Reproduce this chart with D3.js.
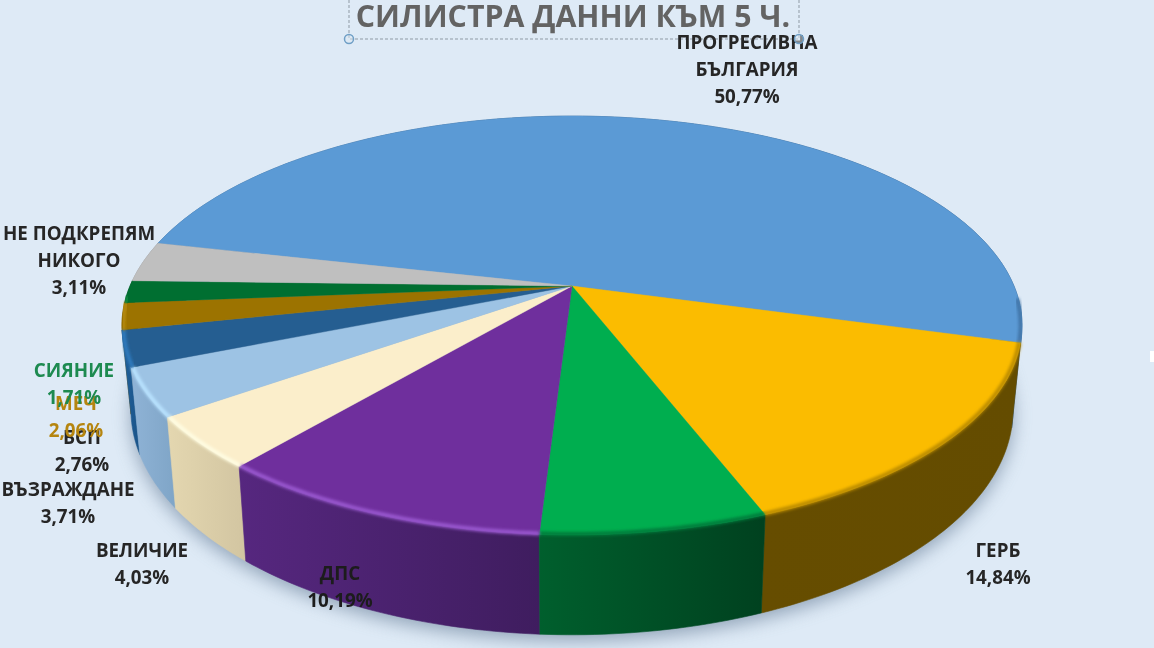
<!DOCTYPE html>
<html><head><meta charset="utf-8">
<script src="https://cdn.jsdelivr.net/npm/d3@7"></script>
<style>
html,body{margin:0;padding:0;background:#deeaf6;overflow:hidden}
svg{display:block;filter:blur(0.5px)}
text{font-family:"Open Sans","Noto Sans",sans-serif;font-weight:700;text-anchor:middle;dominant-baseline:central}
</style></head><body>
<svg id="c" width="1154" height="648"></svg>
<script>
const titleText = "СИЛИСТРА ДАННИ КЪМ 5 Ч.";
const parties = ["ПРОГРЕСИВНА БЪЛГАРИЯ","ГЕРБ","(без етикет)","ДПС","ВЕЛИЧИЕ","ВЪЗРАЖДАНЕ","БСП","МЕЧ","СИЯНИЕ","НЕ ПОДКРЕПЯМ НИКОГО"];
const shares = [50.77,14.84,6.82,10.19,4.03,3.71,2.76,2.06,1.71,3.11];

const topColors  = ["#5b9ad5","#fbbc00","#00ae4f","#6f2f9d","#fbeecb","#9dc3e4","#255e91","#9c7300","#006f31","#bfbfbf"];
const sideLeft   = ["#3a6c9c","#664d00","#005f2d","#56277f","#e4d7b0","#8fb3d6","#1f5f9a","#7a5a00","#005525","#9a9a9a"];
const sideRight  = ["#2d5a88","#644c00","#00411f","#3f1d5f","#d2c5a1","#7fa5c7","#1b5488","#6a4f00","#004a20","#8a8a8a"];
const rimColors  = ["#3f73a6","#b98a00","#007a3a","#9a58d0","#fffde2","#b9e3ff","#2f7cc0","#b58a10","#0a8a40","#d0d0d0"];

// label placement: [centre x, first line y], same order as the parties that carry a label
const labelLines = [
  {p:0,c:"#262626",x:747,y:42,lines:["ПРОГРЕСИВНА","БЪЛГАРИЯ","50,77%"]},
  {p:1,c:"#262626",x:998,y:550,lines:["ГЕРБ","14,84%"]},
  {p:3,c:"#1c1c1c",x:340,y:573,lines:["ДПС","10,19%"]},
  {p:4,c:"#262626",x:142,y:550,lines:["ВЕЛИЧИЕ","4,03%"]},
  {p:5,c:"#262626",x:68,y:489,lines:["ВЪЗРАЖДАНЕ","3,71%"]},
  {p:6,c:"#262626",x:82,y:437,lines:["БСП","2,76%"]},
  {p:7,c:"#b5850f",x:76,y:403,lines:["МЕЧ","2,06%"]},
  {p:8,c:"#1d8a50",x:74,y:370,lines:["СИЯНИЕ","1,71%"]},
  {p:9,c:"#262626",x:79,y:233,lines:["НЕ ПОДКРЕПЯМ","НИКОГО","3,11%"]}
];

const svg = d3.select("#c");
const defs = svg.append("defs");
svg.append("rect").attr("width",1154).attr("height",648).attr("fill","#deeaf6");

// perspective projection of the pie disc; the lower disc sits farther from the viewer
const cx=572, cy=286, A=442, B=202, P=0.1886, D=81, SHRINK=0.02;
const proj=(a,r=1,drop=0)=>{
  const u=r*Math.sin(a), v=-r*Math.cos(a), w=1-P*v;
  return [cx+(1-SHRINK*drop)*A*u/w, cy+(B*v+drop*D)/w];
};
const rad=d3.scaleLinear().domain([0,360]).range([0,2*Math.PI]);
const startA=rad(-77.3);
const pie=d3.pie().sort(null).startAngle(startA).endAngle(startA+2*Math.PI);
const arcs=pie(shares);
const line=d3.line();
const samples=(a0,a1)=>{const n=Math.max(2,Math.ceil((a1-a0)/rad(1)));return d3.range(n+1).map(i=>a0+(a1-a0)*i/n);};

const blur=(id,s)=>defs.append("filter").attr("id",id).attr("x","-10%").attr("y","-10%").attr("width","120%").attr("height","130%")
  .append("feGaussianBlur").attr("stdDeviation",s);
blur("sh",9); blur("rim",1.5);

// soft shadow under the disc
svg.append("path")
  .attr("d",line(samples(0,2*Math.PI).map(a=>{const p=proj(a,1,1);return [p[0],p[1]+6];}))+"Z")
  .attr("fill","#5f7690").attr("opacity",.6).attr("filter","url(#sh)");

// side walls, back to front
const order=d3.range(arcs.length).sort((i,j)=>
  (-Math.cos((arcs[i].startAngle+arcs[i].endAngle)/2))-(-Math.cos((arcs[j].startAngle+arcs[j].endAngle)/2)));
order.forEach(i=>{
  const d=arcs[i], s=samples(d.startAngle,d.endAngle);
  const pts=[...s.map(a=>proj(a)),...s.slice().reverse().map(a=>proj(a,1,1))];
  const gid="g"+i, ext=d3.extent(pts,p=>p[0]);
  const g=defs.append("linearGradient").attr("id",gid).attr("gradientUnits","userSpaceOnUse")
    .attr("x1",ext[0]).attr("x2",ext[1]).attr("y1",0).attr("y2",0);
  g.append("stop").attr("offset",0).attr("stop-color",sideLeft[i]);
  g.append("stop").attr("offset",1).attr("stop-color",sideRight[i]);
  svg.append("path").attr("d",line(pts)+"Z").attr("fill",`url(#${gid})`)
    .attr("stroke",`url(#${gid})`).attr("stroke-width",.6);
});

// top face
arcs.forEach((d,i)=>{
  const pts=[[cx,cy],...samples(d.startAngle,d.endAngle).map(a=>proj(a))];
  svg.append("path").attr("d",line(pts)+"Z").attr("fill",topColors[i])
    .attr("stroke",topColors[i]).attr("stroke-width",.4);
});

// bevelled rim, only on the part that faces the viewer
arcs.forEach((d,i)=>{
  const s=samples(d.startAngle,d.endAngle).filter(a=>-Math.cos(a)>0.05);
  if(s.length<2) return;
  svg.append("path").attr("d",line(s.map(a=>proj(a,.997))))
    .attr("fill","none").attr("stroke",rimColors[i]).attr("stroke-width",4).attr("filter","url(#rim)");
});

// title + selection frame
svg.append("path").attr("d","M349,0V39H799V0").attr("fill","none").attr("stroke","#8f9aa5")
  .attr("stroke-width",1).attr("stroke-dasharray","3,2");
svg.append("text").text(titleText).attr("x",573).attr("y",15).attr("font-size",30.3).attr("fill","#636363");
svg.append("rect").attr("x",1150).attr("y",351).attr("width",4).attr("height",11).attr("fill","#ffffff");

// labels
labelLines.forEach(l=>{
  l.lines.forEach((t,k)=>{
    svg.append("text").text(t).attr("x",l.x).attr("y",l.y+k*27)
      .attr("font-size",18.8).attr("fill",l.c);
  });
});

// frame handles sit above the labels
svg.selectAll("circle.h").data([349,799]).join("circle").attr("cx",d=>d).attr("cy",39).attr("r",4.5)
  .attr("fill","#dbe7f2").attr("fill-opacity",.5).attr("stroke","#6f9fc6").attr("stroke-width",1.5);
</script>
</body></html>
